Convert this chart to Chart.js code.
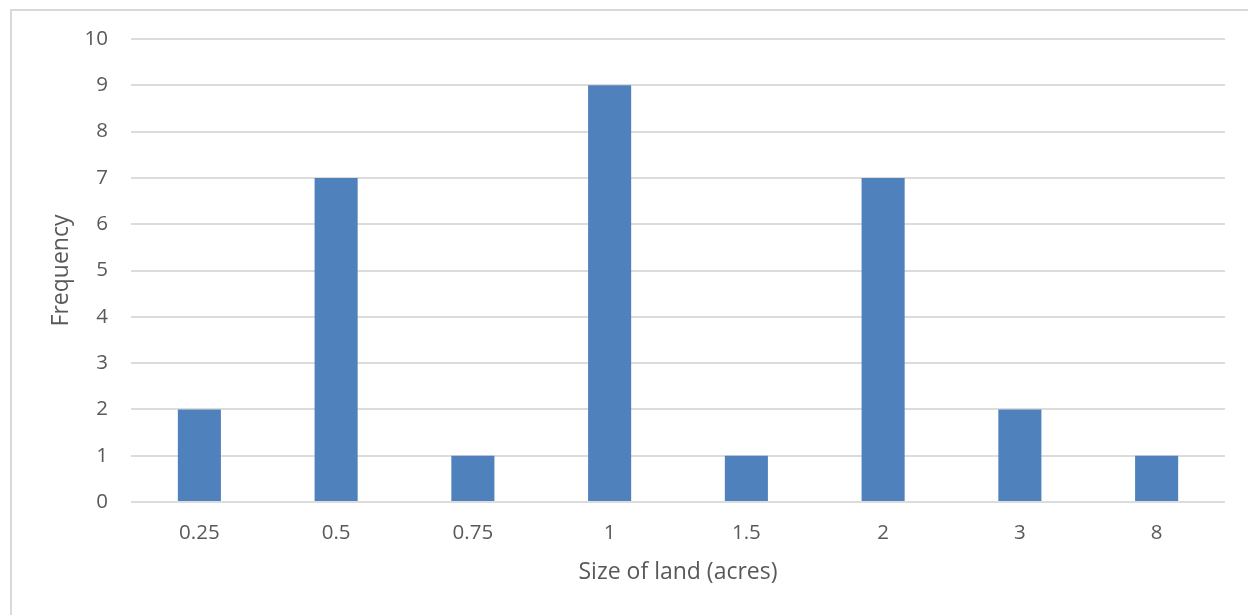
<!DOCTYPE html>
<html>
<head>
<meta charset="utf-8">
<script src="https://cdn.jsdelivr.net/npm/chart.js@4/dist/chart.umd.min.js"></script>
<style>
  html, body { margin: 0; padding: 0; background: #ffffff; }
  #wrap { position: relative; width: 1248px; height: 615px; overflow: hidden; }
  #frame { position: absolute; left: 10px; top: 9px; width: 1260px; height: 640px;
           border-top: 2px solid #d9d9d9; border-left: 2px solid #d9d9d9; box-sizing: border-box; }
  #c { position: absolute; left: 0; top: 0; }
</style>
</head>
<body>
<div id="wrap">
  <div id="frame"></div>
  <canvas id="c" width="1248" height="615"></canvas>
</div>
<script>
// Land plot sizes and how many plots fall into each size
const sizes = ['0.25', '0.5', '0.75', '1', '1.5', '2', '3', '8'];
const frequency = [2, 7, 1, 9, 1, 7, 2, 1];
const yTicks = [0, 1, 2, 3, 4, 5, 6, 7, 8, 9, 10];

const FONT = "'Open Sans', 'Liberation Sans', sans-serif";
const TEXT = '#595959';
const GRID = '#dcdcdc';

new Chart(document.getElementById('c'), {
  type: 'bar',
  data: {
    labels: sizes,
    datasets: [{
      data: frequency,
      backgroundColor: '#4f81bd',
      borderWidth: 0,
      categoryPercentage: 1,
      barPercentage: 0.315
    }]
  },
  options: {
    responsive: false,
    animation: false,
    layout: { padding: { top: 39, right: 23, bottom: 0, left: 0 } },
    plugins: { legend: { display: false }, tooltip: { enabled: false } },
    scales: {
      x: {
        grid: { display: false, drawTicks: false },
        border: { display: false },
        ticks: { color: TEXT, font: { family: FONT, size: 20.5 }, padding: 19, maxRotation: 0 },
        title: { display: true, text: 'Size of land (acres)', color: TEXT,
                 font: { family: FONT, size: 23 }, padding: { top: 0, bottom: 29 } },
        afterFit: s => { s.height = 113; }
      },
      y: {
        min: 0, max: 10,
        afterBuildTicks: s => { s.ticks = yTicks.map(v => ({ value: v })); },
        grid: { color: GRID, lineWidth: 2, drawTicks: false },
        border: { display: false },
        ticks: { color: TEXT, font: { family: FONT, size: 20.5 }, padding: 23 },
        title: { display: true, text: 'Frequency', color: TEXT,
                 font: { family: FONT, size: 23 }, padding: { top: 48, bottom: 0 } },
        afterFit: s => { s.width = 131; }
      }
    }
  }
});
</script>
</body>
</html>
